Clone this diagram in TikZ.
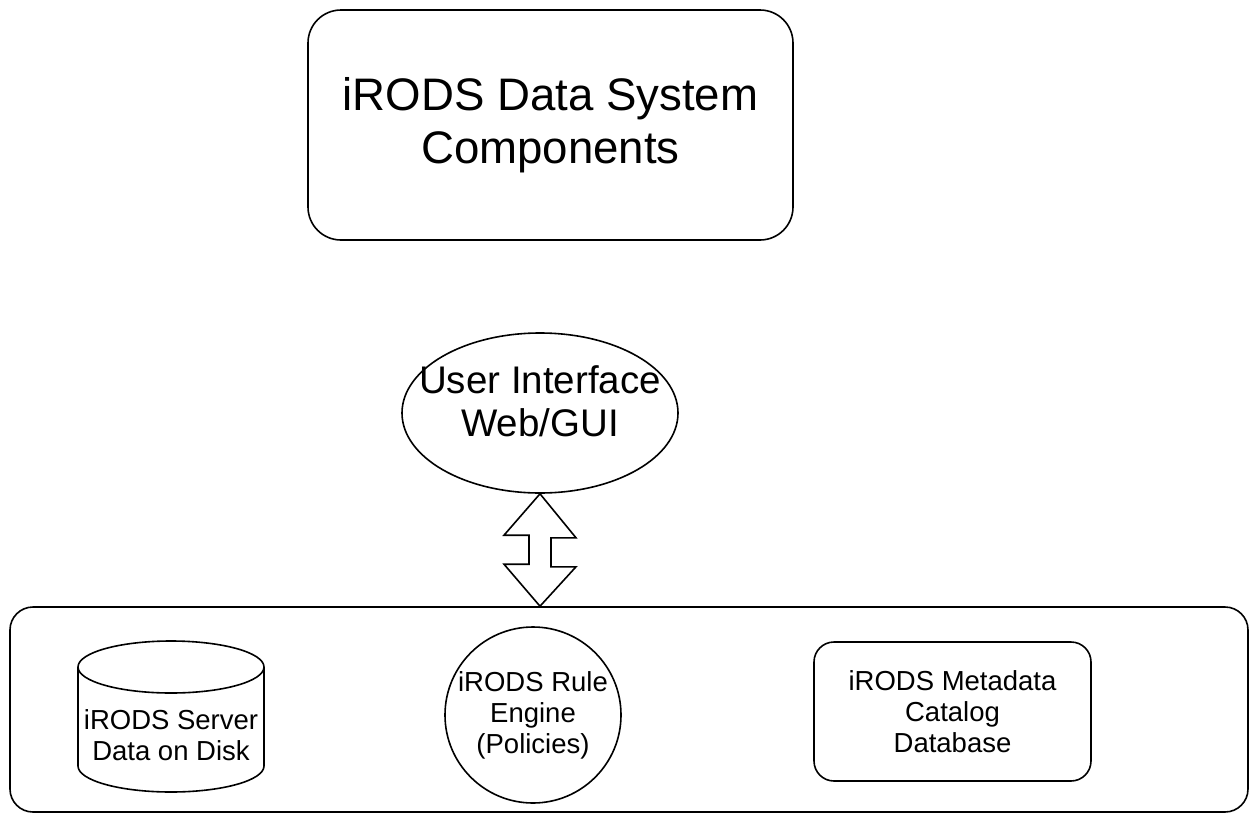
\documentclass[tikz,border=0pt]{standalone}
\usepackage{fontspec}
\setmainfont{Liberation Sans}
\usetikzlibrary{shapes.geometric}

\begin{document}
\begin{tikzpicture}[x=1pt,y=-1pt,
    line/.style={draw,line width=1.6pt},
    roundbox/.style={line,rectangle,rounded corners=#1},
    big/.style={font=\fontsize{45.6}{53}\selectfont,align=center},
    mid/.style={font=\fontsize{38.5}{43}\selectfont,align=center},
    small/.style={font=\fontsize{27.5}{31}\selectfont,align=center}]
  \useasboundingbox (0,0) rectangle (1250,814);
  \node[roundbox=33pt,big,minimum width=485pt,minimum height=230pt] (title) at (550.5,125) {iRODS Data System\\Components};
  \node[line,ellipse,minimum width=276pt,minimum height=160pt,inner sep=0pt] (ui) at (540,413) {};
  \node[mid] (uitext) at ([yshift=12pt]ui.center) {User Interface\\Web/GUI};
  \node[roundbox=23pt,minimum width=1238pt,minimum height=205pt] (sys) at (629,709.5) {};
  \node[line,circle,small,minimum size=176pt,inner sep=0pt] (rules) at (533,715) {iRODS Rule\\Engine\\(Policies)};
  \node[roundbox=20pt,small,minimum width=277pt,minimum height=139pt] (catalog) at (952.5,711.5) {iRODS Metadata\\Catalog\\Database};
  % disk
  \coordinate (disktop) at (171,667);
  \draw[line] (disktop) ellipse [x radius=93pt,y radius=26pt];
  \draw[line] ([xshift=-93pt]disktop) -- ++(0,99)
    arc[start angle=180,end angle=360,x radius=93pt,y radius=26pt] -- ([xshift=93pt]disktop);
  \node[small] (disk) at (171,735) {iRODS Server\\Data on Disk};
  % double arrow
  \draw[line,line join=miter] (ui.south) -- ++(36,44) -- ++(-25,0) -- ++(0,29) -- ++(25,0)
    -- (ui.south |- sys.north) -- ++(-36,-42) -- ++(25,0) -- ++(0,-29) -- ++(-25,0) -- cycle;
\end{tikzpicture}
\end{document}
